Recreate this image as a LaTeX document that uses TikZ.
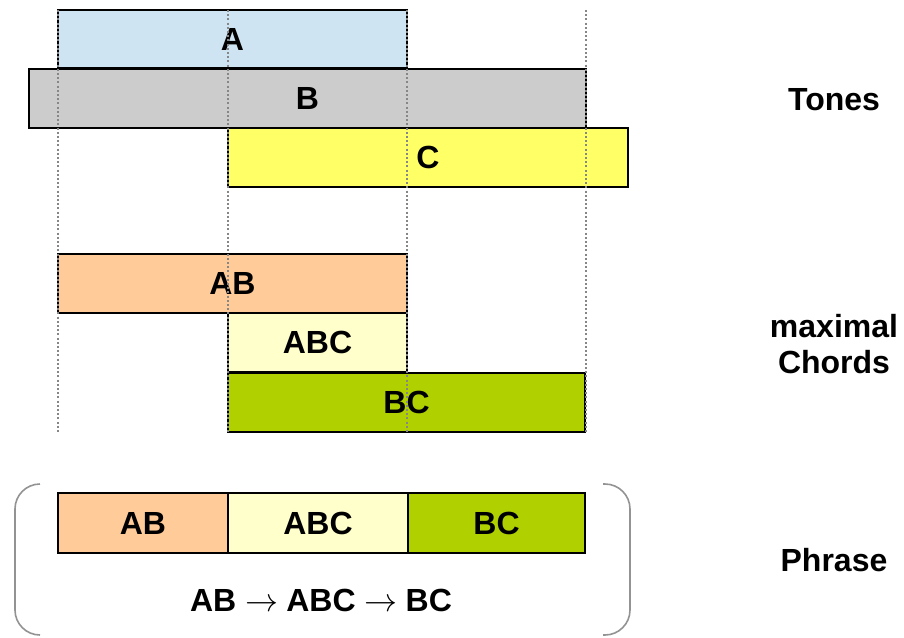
\documentclass[tikz,border=0pt]{standalone}
\usepackage{graphicx}
\usepackage{fontspec}
\setmainfont{Liberation Sans}
\newcommand{\bigarr}{\hspace{9pt}\resizebox{33pt}{!}{$\rightarrow$}\hspace{8pt}}
\begin{document}
\begin{tikzpicture}[x=1pt,y=-1pt,
  bar/.style={draw=black,line width=2.3pt,rectangle,inner sep=0pt,font=\fontsize{32}{36}\selectfont\bfseries},
  lbl/.style={font=\fontsize{32}{36}\selectfont\bfseries,align=center,inner sep=0pt},
  guide/.style={draw=gray!95,line width=1.9pt,dash pattern=on 2pt off 2.2pt},
  brk/.style={draw=gray!85,line width=1.6pt,rounded corners=25pt}]
\definecolor{cA}{RGB}{207,228,242}
\definecolor{cB}{RGB}{204,204,204}
\definecolor{cC}{RGB}{255,255,102}
\definecolor{cAB}{RGB}{255,204,153}
\definecolor{cABC}{RGB}{255,255,204}
\definecolor{cBC}{RGB}{176,208,0}
\useasboundingbox (0,0) rectangle (904,637);
% tones
\node[bar,fill=cA,minimum width=349pt,minimum height=58pt] (A) at (232.5,39) {A};
\node[bar,fill=cB,minimum width=557pt,minimum height=59pt] (B) at (307.5,98.5) {B};
\node[bar,fill=cC,minimum width=400pt,minimum height=59pt] (C) at (428,157.5) {C};
% chords
\node[bar,fill=cAB,minimum width=349pt,minimum height=59pt] (AB) at (232.5,283.5) {AB};
\node[bar,fill=cABC,minimum width=179pt,minimum height=59pt] (ABC) at (317.5,342.5) {ABC};
\node[bar,fill=cBC,minimum width=357pt,minimum height=59pt] (BC) at (406.5,402.5) {BC};
% guides
\coordinate (g1t) at (58,10); \coordinate (g1b) at (58,432);
\coordinate (g2t) at (228,10); \coordinate (g2b) at (228,432);
\coordinate (g3t) at (407,10); \coordinate (g3b) at (407,432);
\coordinate (g4t) at (586,10); \coordinate (g4b) at (586,432);
\draw[guide] (g1t) -- (g1b);
\draw[guide] (g2t) -- (g2b);
\draw[guide] (g3t) -- (g3b);
\draw[guide] (g4t) -- (g4b);
% phrase
\node[bar,fill=cAB,minimum width=170pt,minimum height=60pt] (pAB) at (143,523) {AB};
\node[bar,fill=cABC,minimum width=180pt,minimum height=60pt] (pABC) at (318,523) {ABC};
\node[bar,fill=cBC,minimum width=177pt,minimum height=60pt] (pBC) at (496.5,523) {BC};
\node[lbl] (seq) at (321,600) {AB\bigarr{}ABC\bigarr{}BC};
% brackets
\draw[brk] (40,484) -- (15,484) -- (15,635) -- (40,635);
\draw[brk] (603,484) -- (630,484) -- (630,635) -- (603,635);
% labels
\node[lbl] (tones) at (834,100) {Tones};
\node[lbl] (chords) at (834,344) {maximal\\Chords};
\node[lbl] (phrase) at (834,560) {Phrase};
\end{tikzpicture}
\end{document}
